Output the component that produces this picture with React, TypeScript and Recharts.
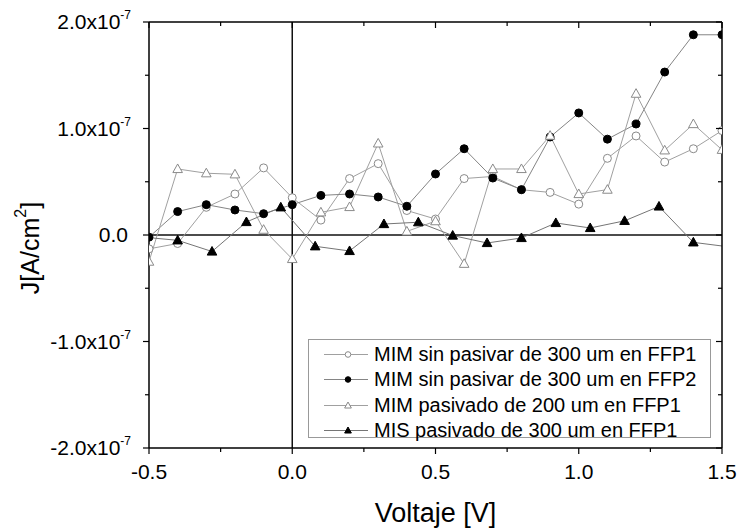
import React from 'react';
import { LineChart, Line, XAxis, YAxis, ReferenceLine } from 'recharts';

// Voltage steps [V] of the three MIM sweeps
const voltage = [
  -0.5, -0.4, -0.3, -0.2, -0.1, 0.0, 0.1, 0.2, 0.3, 0.4, 0.5,
  0.6, 0.7, 0.8, 0.9, 1.0, 1.1, 1.2, 1.3, 1.4, 1.5,
];

// Current density, in units of 1e-7 A/cm^2
const mimSinPasivarFfp1 = [
  -0.13, -0.08, 0.26, 0.385, 0.63, 0.35, 0.14, 0.53, 0.67, 0.23, 0.15,
  0.53, 0.55, 0.425, 0.4, 0.29, 0.72, 0.93, 0.685, 0.81, 0.98,
];
const mimSinPasivarFfp2 = [
  -0.02, 0.22, 0.285, 0.235, 0.2, 0.285, 0.372, 0.385, 0.357, 0.27, 0.573,
  0.81, 0.535, 0.426, 0.92, 1.146, 0.9, 1.042, 1.53, 1.88, 1.88,
];
const mimPasivado200Ffp1 = [
  -0.25, 0.62, 0.58, 0.57, 0.05, -0.225, 0.213, 0.263, 0.86, 0.034, 0.13,
  -0.27, 0.62, 0.62, 0.933, 0.385, 0.426, 1.327, 0.795, 1.042, 0.8,
];

// MIS sweep was taken with its own voltage step
const misVoltage = [
  -0.52, -0.4, -0.28, -0.16, -0.04, 0.08, 0.2, 0.32, 0.44, 0.56,
  0.68, 0.8, 0.92, 1.04, 1.16, 1.28, 1.4, 1.52,
];
const misPasivado300Ffp1 = [
  -0.02, -0.05, -0.155, 0.122, 0.26, -0.106, -0.15, 0.103, 0.12, -0.005,
  -0.075, -0.028, 0.113, 0.066, 0.133, 0.268, -0.069, -0.11,
];

const xTicks = [-0.5, -0.25, 0, 0.25, 0.5, 0.75, 1, 1.25, 1.5];
const yTicks = [-2, -1.5, -1, -0.5, 0, 0.5, 1, 1.5, 2];

const FONT = '"Liberation Sans", Arial, Helvetica, sans-serif';

const toPoints = (xs: number[], ys: number[]) => xs.map((x, i) => ({ x, j: ys[i] }));

type MarkerKind = 'circle-open' | 'circle' | 'tri-open' | 'tri';

const series: { name: string; data: { x: number; j: number }[]; marker: MarkerKind; line: string }[] = [
  { name: 'MIM sin pasivar de 300 um en FFP1', data: toPoints(voltage, mimSinPasivarFfp1), marker: 'circle-open', line: '#a0a0a0' },
  { name: 'MIM sin pasivar de 300 um en FFP2', data: toPoints(voltage, mimSinPasivarFfp2), marker: 'circle', line: '#858585' },
  { name: 'MIM pasivado de 200 um en FFP1', data: toPoints(voltage, mimPasivado200Ffp1), marker: 'tri-open', line: '#a0a0a0' },
  { name: 'MIS pasivado de 300 um en FFP1', data: toPoints(misVoltage, misPasivado300Ffp1), marker: 'tri', line: '#757575' },
];

function Marker({ cx, cy, kind, scale = 1 }: { cx: number; cy: number; kind: MarkerKind; scale?: number }) {
  if (cx == null || cy == null) return null;
  const open = kind === 'circle-open' || kind === 'tri-open';
  const fill = open ? '#fff' : '#000';
  const stroke = open ? '#8a8a8a' : '#000';
  if (kind === 'circle' || kind === 'circle-open') {
    return <circle cx={cx} cy={cy} r={4 * scale} fill={fill} stroke={stroke} strokeWidth={1} />;
  }
  const w = 4.8 * scale;
  const pts = `${cx},${cy - 5 * scale} ${cx - w},${cy + 3.6 * scale} ${cx + w},${cy + 3.6 * scale}`;
  return <polygon points={pts} fill={fill} stroke={stroke} strokeWidth={1} />;
}

const isMajor = (v: number, step: number) => Math.abs(v / step - Math.round(v / step)) < 1e-6;

function BottomTick(props: any) {
  const { x, y, payload } = props;
  const major = isMajor(payload.value, 0.5);
  return (
    <g>
      <line x1={x} x2={x} y1={y} y2={y + (major ? 6 : 4)} stroke="#000" strokeWidth={1.2} />
      {major && (
        <text x={x} y={y + 31} textAnchor="middle" fontSize={21} fontFamily={FONT} fill="#000">
          {payload.value.toFixed(1)}
        </text>
      )}
    </g>
  );
}

function TopTick(props: any) {
  const { x, y, payload } = props;
  const major = isMajor(payload.value, 0.5);
  return <line x1={x} x2={x} y1={y} y2={y + (major ? 6 : 4)} stroke="#000" strokeWidth={1.2} />;
}

function LeftTick(props: any) {
  const { x, y, payload } = props;
  const v = payload.value as number;
  const major = isMajor(v, 1);
  let label: React.ReactNode = null;
  if (major) {
    label =
      v === 0 ? (
        <text x={x - 21} y={y + 7} textAnchor="end" fontSize={21} fontFamily={FONT} fill="#000">
          0.0
        </text>
      ) : (
        <text x={x - 18} y={y + 7} textAnchor="end" fontSize={21} fontFamily={FONT} fill="#000">
          {v.toFixed(1)}x10
          <tspan dy={-10} fontSize={12}>
            -7
          </tspan>
        </text>
      );
  }
  return (
    <g>
      <line x1={x} x2={x - (major ? 6 : 4)} y1={y} y2={y} stroke="#000" strokeWidth={1.2} />
      {label}
    </g>
  );
}

function RightTick(props: any) {
  const { x, y, payload } = props;
  const major = isMajor(payload.value, 1);
  return <line x1={x} x2={x - (major ? 6 : 4)} y1={y} y2={y} stroke="#000" strokeWidth={1.2} />;
}

const renderXTitle = (props: any) => {
  const vb = props.viewBox;
  return (
    <text x={vb.x + vb.width / 2} y={vb.y + 74} textAnchor="middle" fontSize={27} fontFamily={FONT} fill="#000">
      Voltaje [V]
    </text>
  );
};

const renderYTitle = (props: any) => {
  const vb = props.viewBox;
  const cx = vb.x + 30;
  const cy = vb.y + 226;
  return (
    <text
      x={cx}
      y={cy}
      transform={`rotate(-90, ${cx}, ${cy})`}
      textAnchor="middle"
      dominantBaseline="central"
      fontSize={25}
      fontFamily={FONT}
      fill="#000"
    >
      J[A/cm<tspan dy={-10} fontSize={16}>2</tspan>
      <tspan dy={10}>]</tspan>
    </text>
  );
};

function LegendBox() {
  return (
    <div
      style={{
        position: 'absolute',
        left: 308,
        top: 339,
        width: 403,
        height: 99,
        border: '1px solid #999',
        background: '#fff',
        boxSizing: 'border-box',
        fontFamily: FONT,
        fontSize: 20,
        color: '#000',
      }}
    >
      {series.map((s, i) => (
        <div
          key={s.name}
          style={{
            position: 'absolute',
            left: 14,
            top: 2 + i * 25.4,
            height: 25,
            display: 'flex',
            alignItems: 'center',
            whiteSpace: 'nowrap',
          }}
        >
          <svg width={48} height={25} style={{ display: 'block' }}>
            <line x1={1} x2={45} y1={12.5} y2={12.5} stroke={s.line} strokeWidth={1} />
            <Marker cx={25} cy={12.5} kind={s.marker} scale={0.7} />
          </svg>
          <span style={{ marginLeft: 3 }}>{s.name}</span>
        </div>
      ))}
    </div>
  );
}

export default function App() {
  return (
    <div style={{ position: 'relative', width: 738, height: 531, background: '#fff' }}>
      <style>{'body{margin:0}'}</style>
      <LineChart width={738} height={531} margin={{ top: 0, right: 0, bottom: 0, left: 0 }}>
        <XAxis
          dataKey="x"
          type="number"
          domain={[-0.5, 1.5]}
          ticks={xTicks}
          allowDataOverflow
          height={83}
          tickSize={0}
          tickMargin={0}
          tickLine={false}
          tick={<BottomTick />}
          axisLine={{ stroke: '#000', strokeWidth: 1.5 }}
          interval={0}
          label={renderXTitle}
        />
        <XAxis
          xAxisId="top"
          orientation="top"
          dataKey="x"
          type="number"
          domain={[-0.5, 1.5]}
          ticks={xTicks}
          allowDataOverflow
          height={22}
          tickSize={0}
          tickMargin={0}
          tickLine={false}
          tick={<TopTick />}
          axisLine={{ stroke: '#000', strokeWidth: 1.5 }}
          interval={0}
        />
        <YAxis
          type="number"
          domain={[-2, 2]}
          ticks={yTicks}
          allowDataOverflow
          width={149}
          tickSize={0}
          tickMargin={0}
          tickLine={false}
          tick={<LeftTick />}
          axisLine={{ stroke: '#000', strokeWidth: 1.5 }}
          interval={0}
          label={renderYTitle}
        />
        <YAxis
          yAxisId="right"
          orientation="right"
          type="number"
          domain={[-2, 2]}
          ticks={yTicks}
          allowDataOverflow
          width={16}
          tickSize={0}
          tickMargin={0}
          tickLine={false}
          tick={<RightTick />}
          axisLine={{ stroke: '#000', strokeWidth: 1.5 }}
          interval={0}
        />
        <ReferenceLine x={0} stroke="#111" strokeWidth={1.5} />
        <ReferenceLine y={0} stroke="#111" strokeWidth={1.5} />
        {series.map((s) => (
          <Line
            key={s.name}
            data={s.data}
            dataKey="j"
            name={s.name}
            type="linear"
            stroke={s.line}
            strokeWidth={1}
            isAnimationActive={false}
            dot={(p: any) => <Marker key={`${s.marker}-${p.index}`} cx={p.cx} cy={p.cy} kind={s.marker} />}
            activeDot={false}
          />
        ))}
      </LineChart>
      <LegendBox />
    </div>
  );
}
